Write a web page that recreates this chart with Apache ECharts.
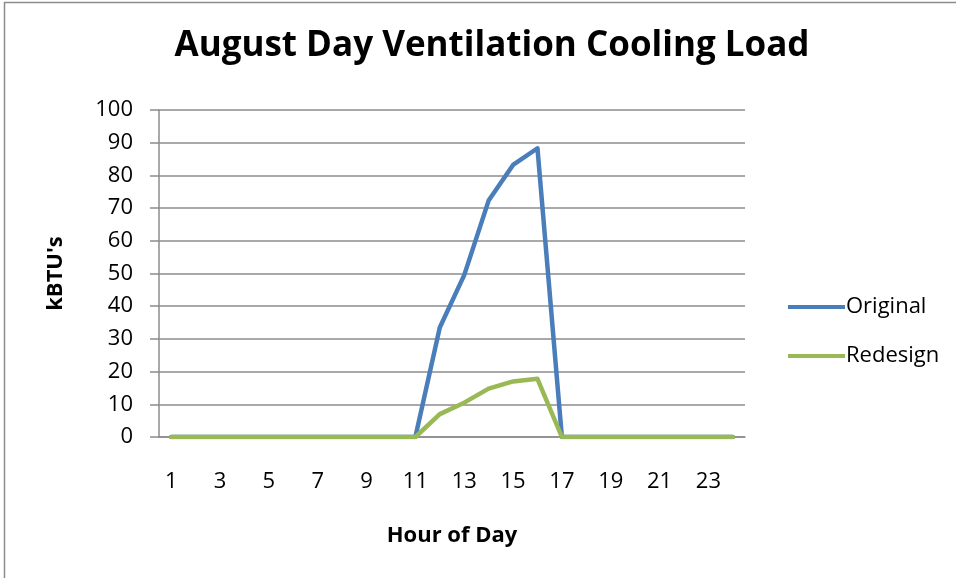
<!DOCTYPE html>
<html>
<head>
<meta charset="utf-8">
<script src="https://cdn.jsdelivr.net/npm/echarts@6/dist/echarts.min.js"></script>
<style>
  html, body { margin: 0; padding: 0; background: #fff; }
  #chart { width: 956px; height: 578px; }
</style>
</head>
<body>
<div id="chart"></div>
<script>
  // hours of the day
  const hours = ['1','2','3','4','5','6','7','8','9','10','11','12','13','14','15','16','17','18','19','20','21','22','23','24']
  // kBTU's
  const original = [0,0,0,0,0,0,0,0,0,0,0,33.5,49.5,72.3,83.2,88.3,0,0,0,0,0,0,0,0]
  const redesign = [0,0,0,0,0,0,0,0,0,0,0,7,10.5,14.8,17,17.8,0,0,0,0,0,0,0,0]

  const chart = echarts.init(document.getElementById('chart'))
  const font = "'Open Sans', 'Liberation Sans', sans-serif"

  const option = {
    backgroundColor: '#fff',
    animation: false,
    textStyle: { fontFamily: font },
    title: {
      text: 'August Day Ventilation Cooling Load',
      left: 487,
      top: 24,
      textAlign: 'center',
      textStyle: { fontSize: 35, fontWeight: 'bold', color: '#000', fontFamily: font }
    },
    // outer frame of the chart
    graphic: [{
      type: 'rect',
      shape: { x: 4.5, y: 2.5, width: 1000, height: 1000 },
      style: { fill: 'none', stroke: '#8c8c8c', lineWidth: 1.5 },
      silent: true
    }],
    legend: {
      orient: 'vertical',
      left: 783,
      top: 291,
      itemWidth: 57,
      itemHeight: 4,
      itemGap: 27,
      icon: 'rect',
      textStyle: { fontSize: 22, color: '#000', padding: [0, 0, 0, -4] },
      data: ['Original', 'Redesign']
    },
    grid: { left: 159, right: 211, top: 110, bottom: 141 },
    xAxis: {
      type: 'category',
      data: hours,
      boundaryGap: true,
      name: 'Hour of Day',
      nameLocation: 'middle',
      nameGap: 88,
      nameTextStyle: { fontSize: 22, fontWeight: 'bold', color: '#000' },
      axisLine: { lineStyle: { color: '#8c8c8c', width: 1.5 } },
      axisTick: { show: false },
      axisLabel: { interval: 1, fontSize: 22, color: '#000', margin: 34 }
    },
    yAxis: {
      type: 'value',
      min: 0,
      max: 100,
      interval: 10,
      name: "kBTU's",
      nameLocation: 'middle',
      nameGap: 92,
      nameTextStyle: { fontSize: 22, fontWeight: 'bold', color: '#000' },
      axisLine: { show: true, lineStyle: { color: '#8c8c8c', width: 1.5 } },
      axisTick: { show: true, length: 9, lineStyle: { color: '#8c8c8c', width: 1.5 } },
      axisLabel: { fontSize: 22, color: '#000', margin: 26 },
      splitLine: { lineStyle: { color: '#8c8c8c', width: 1.5 } }
    },
    series: [
      {
        name: 'Original',
        type: 'line',
        data: original,
        symbol: 'none',
        lineStyle: { color: '#4a7ebb', width: 4.5, cap: 'round', join: 'round' },
        itemStyle: { color: '#4a7ebb' }
      },
      {
        name: 'Redesign',
        type: 'line',
        data: redesign,
        symbol: 'none',
        lineStyle: { color: '#98b954', width: 4.5, cap: 'round', join: 'round' },
        itemStyle: { color: '#98b954' }
      }
    ]
  }
  chart.setOption(option)
</script>
</body>
</html>
